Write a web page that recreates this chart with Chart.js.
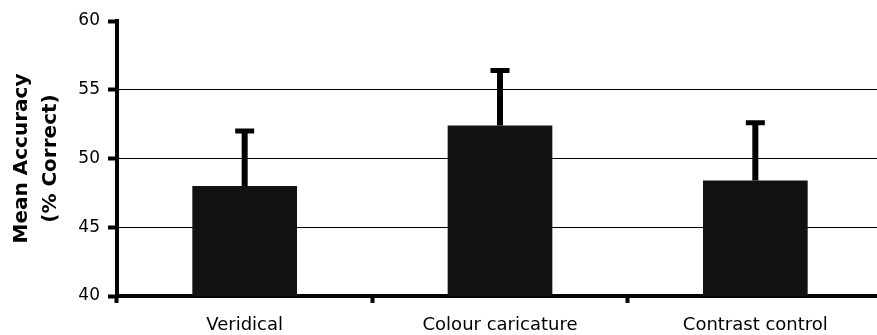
<!DOCTYPE html>
<html>
<head>
<meta charset="utf-8">
<script src="https://cdn.jsdelivr.net/npm/chart.js@4.4.1/dist/chart.umd.min.js"></script>
<style>
  html, body { margin: 0; padding: 0; background: #fff; overflow: hidden; }
  #wrap { width: 890px; height: 335px; position: relative; }
</style>
</head>
<body>
<div id="wrap"><canvas id="c" width="890" height="335"></canvas></div>
<script>
// Mean accuracy per condition, with the upper error bar length
const categories = ['Veridical', 'Colour caricature', 'Contrast control'];
const meanAccuracy = [48.0, 52.4, 48.4];
const errorUpper = [4.0, 4.0, 4.2];
const yTicks = [40, 45, 50, 55, 60];
const gridValues = [45, 50, 55];

// Upper error bars drawn from each bar's value through the y scale
const errorBars = {
  id: 'errorBars',
  afterDatasetsDraw(chart) {
    const { ctx, scales: { y } } = chart;
    const meta = chart.getDatasetMeta(0);
    ctx.save();
    ctx.fillStyle = '#000';
    meta.data.forEach((bar, i) => {
      const x = bar.x;
      const yTop = y.getPixelForValue(meanAccuracy[i] + errorUpper[i]);
      const yBase = y.getPixelForValue(meanAccuracy[i]);
      ctx.fillRect(x - 3, yTop, 6, yBase - yTop);
      ctx.fillRect(x - 9.5, yTop - 2.5, 19, 5);
    });
    ctx.restore();
  }
};

new Chart(document.getElementById('c'), {
  type: 'bar',
  data: {
    labels: categories,
    datasets: [{
      data: meanAccuracy,
      backgroundColor: '#121212',
      borderWidth: 0,
      barPercentage: 0.41,
      categoryPercentage: 1.0
    }]
  },
  options: {
    responsive: false,
    animation: false,
    layout: { padding: { top: 21, right: 7, left: 0, bottom: 0 } },
    plugins: { legend: { display: false }, tooltip: { enabled: false } },
    scales: {
      x: {
        grid: {
          offset: true,
          drawOnChartArea: false,
          drawTicks: true,
          tickLength: 7,
          tickWidth: 4,
          tickColor: '#000'
        },
        border: { display: true, color: '#000', width: 4 },
        ticks: {
          color: '#000',
          padding: 12,
          maxRotation: 0,
          font: { family: 'DejaVu Sans', size: 18 }
        },
        afterFit(scale) { scale.height = 39; }
      },
      y: {
        min: 40,
        max: 60,
        afterBuildTicks(scale) { scale.ticks = yTicks.map(v => ({ value: v })); },
        grid: {
          color: ctx => gridValues.includes(ctx.tick && ctx.tick.value) ? '#000' : 'rgba(0,0,0,0)',
          lineWidth: 1,
          tickColor: '#000',
          tickLength: 9,
          tickWidth: 4
        },
        border: { display: true, color: '#000', width: 4 },
        ticks: {
          color: '#000',
          padding: 8,
          font: { family: 'DejaVu Sans', size: 17 }
        },
        title: {
          display: true,
          text: ['Mean Accuracy', '(% Correct)'],
          color: '#000',
          padding: { top: 7.5, bottom: 0 },
          font: { family: 'DejaVu Sans', size: 20, weight: 'bold', lineHeight: 1.45 }
        },
        afterFit(scale) { scale.width = 117; }
      }
    }
  },
  plugins: [errorBars]
});
</script>
</body>
</html>
